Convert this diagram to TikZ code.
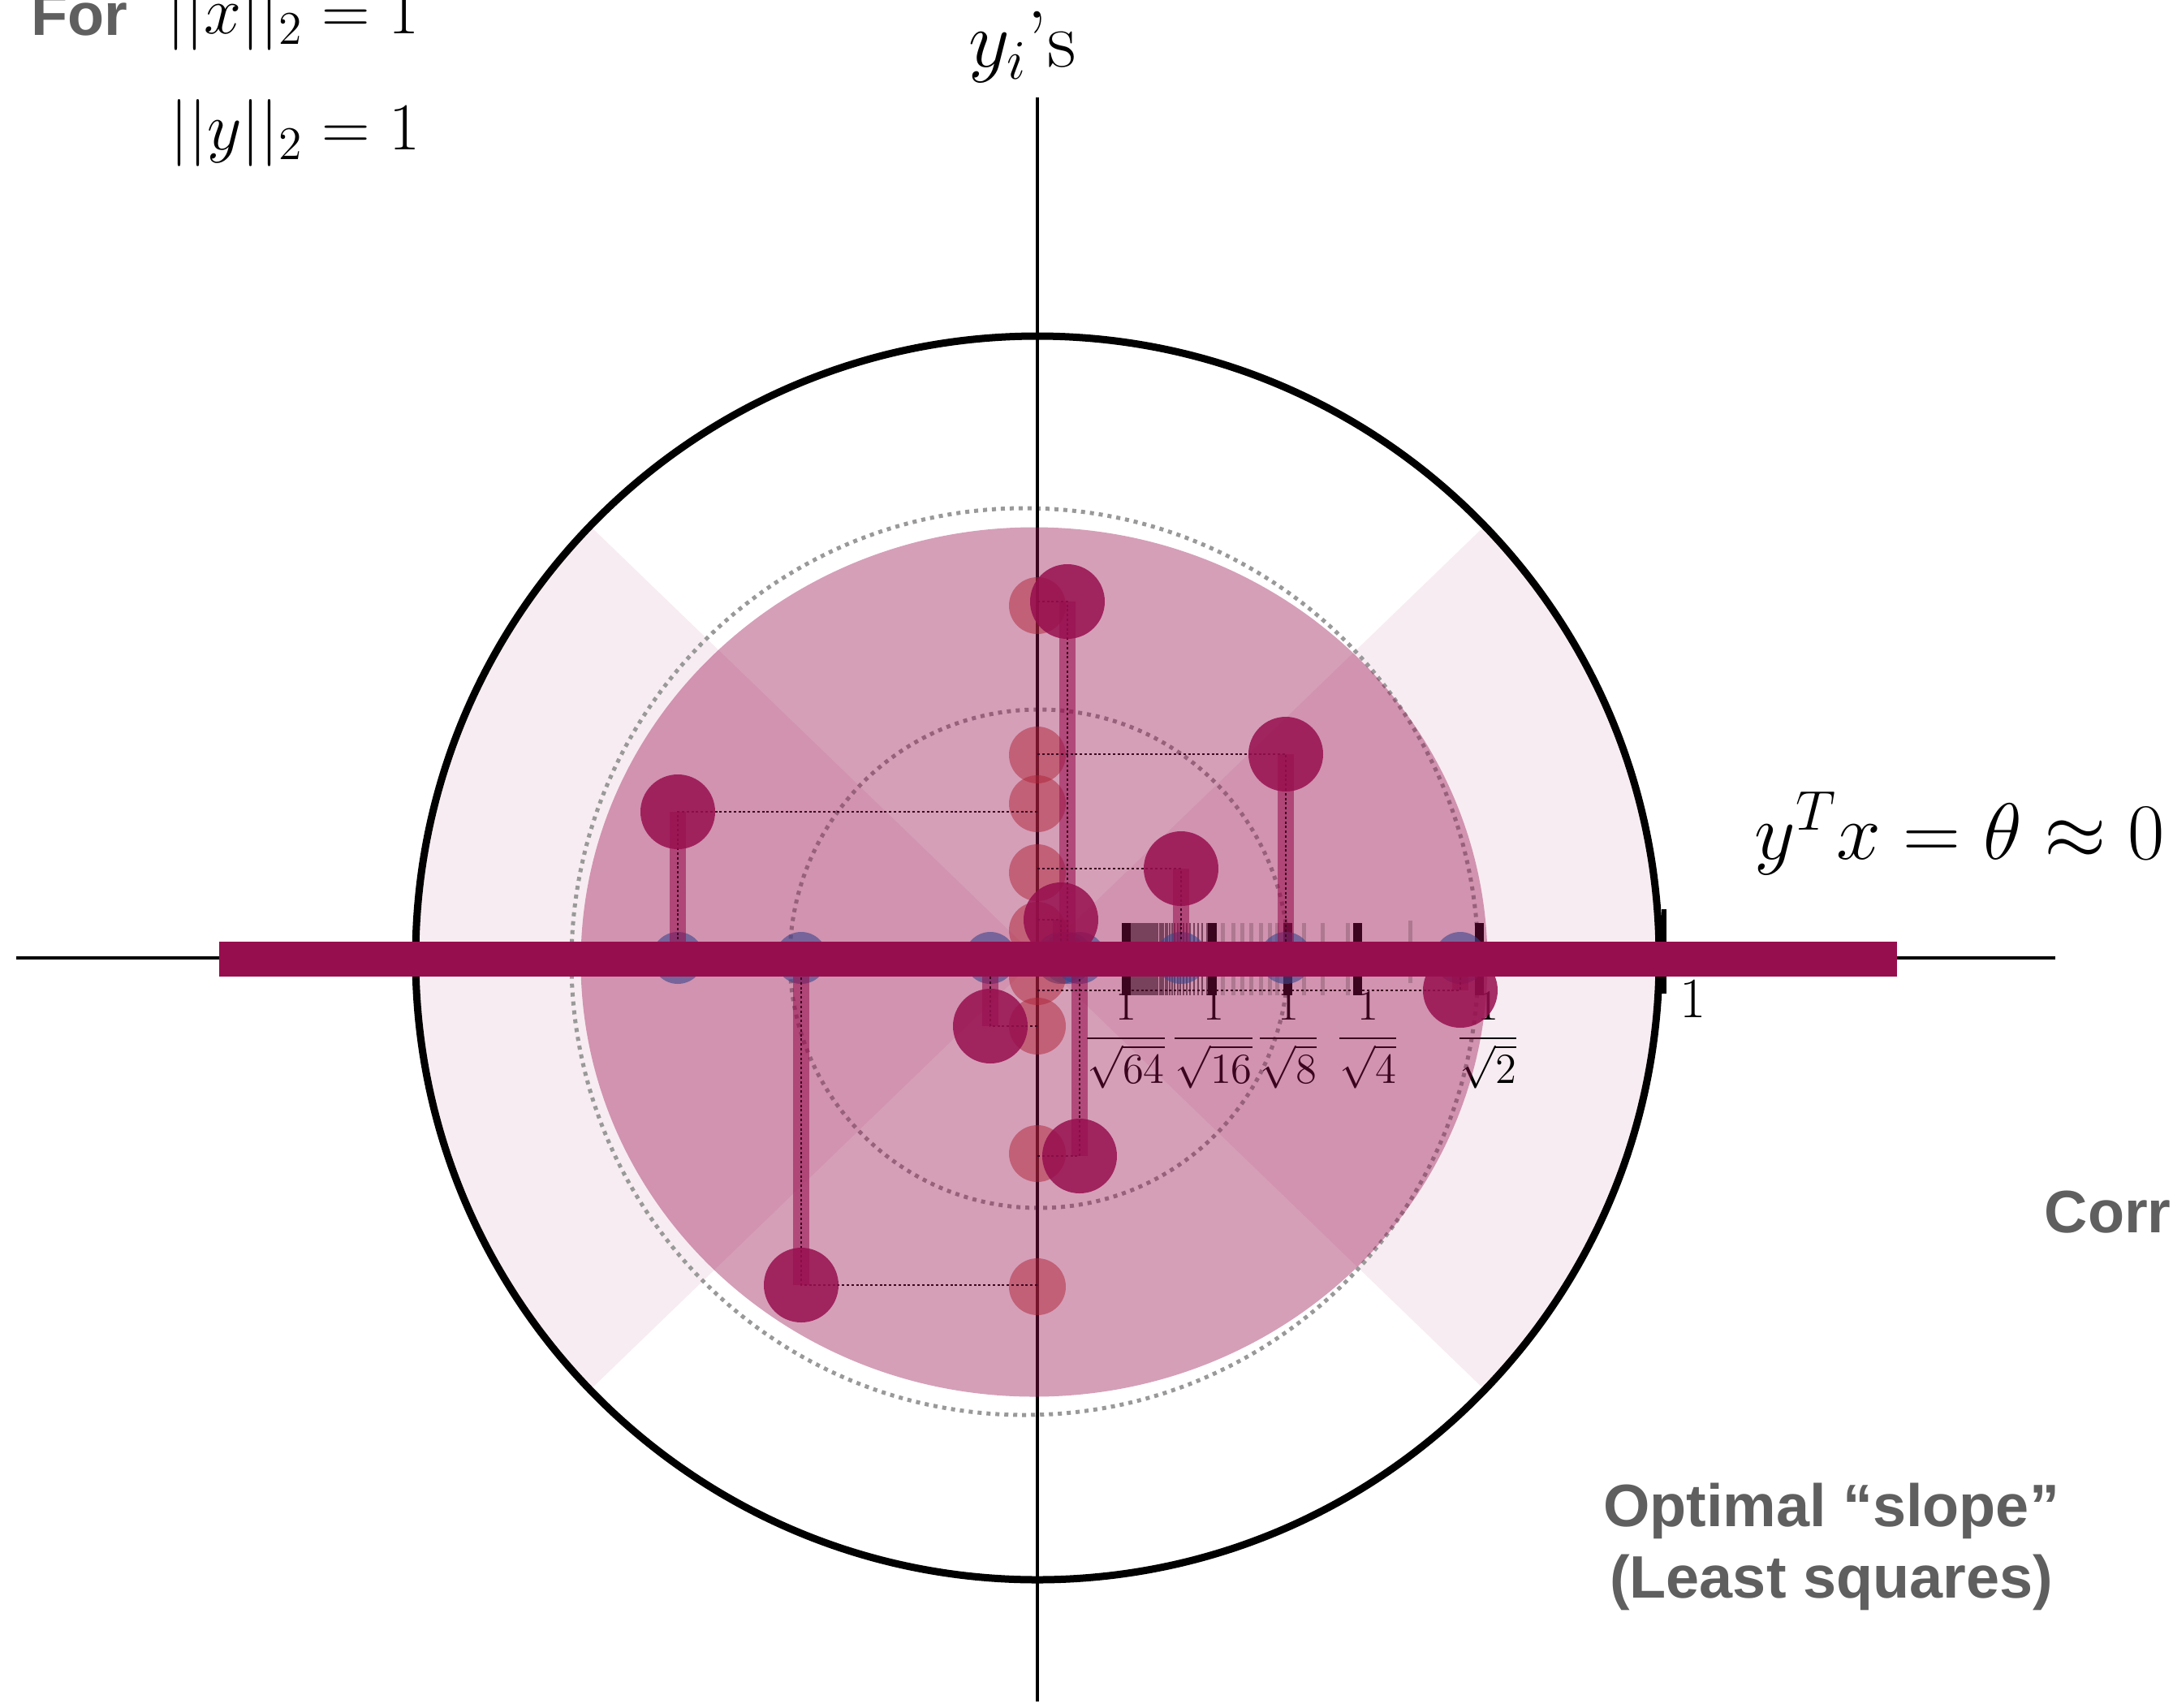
\RequirePackage{fix-cm}
\documentclass[tikz,border=0pt]{standalone}
\usepackage{amsmath,amssymb}
\usepackage{fontspec}
\setsansfont{Liberation Sans}
\usepackage{xcolor}
\usepackage{tikz}
\usetikzlibrary{arrows.meta,positioning,calc}

\definecolor{wine}{RGB}{151,14,78}
\definecolor{projred}{RGB}{175,35,55}
\definecolor{projblue}{RGB}{60,70,140}
\definecolor{capgray}{RGB}{95,95,95}
\definecolor{dotline}{RGB}{60,8,32}

\begin{document}
\begin{tikzpicture}[>=Stealth]
\tikzstyle{pnt}=[circle,fill=wine,fill opacity=0.85,minimum size=9.2mm,inner sep=0pt]
\tikzstyle{rproj}=[circle,fill=projred,fill opacity=0.5,minimum size=7mm,inner sep=0pt]
\tikzstyle{bproj}=[circle,fill=projblue,fill opacity=0.6,minimum size=6.4mm,inner sep=0pt]
\tikzstyle{stembar}=[wine,opacity=0.58,line width=2mm]
\tikzstyle{pline}=[dotline,line width=0.22mm,dash pattern=on 0.3mm off 0.28mm]
\tikzstyle{ring}=[black!40,line width=0.5mm,dash pattern=on 0.5mm off 0.6mm]
\tikzstyle{capfont}=[font=\fontsize{21}{25}\selectfont\sffamily\bfseries,text=capgray,inner sep=0pt]
\tikzstyle{big}=[font=\fontsize{28}{34}\selectfont,inner sep=0pt]
\tikzstyle{norm}=[font=\fontsize{23.5}{28}\selectfont,inner sep=0pt,anchor=base west]
\tikzstyle{frac}=[font=\fontsize{15}{18}\selectfont,inner sep=0pt]
\def\pts{1/0.37/4.39/4.34, 2/3.06/2.51/2.50, 3/-4.43/1.80/1.90, 4/1.77/1.10/1.05,
  5/0.29/0.47/0.34, 6/5.21/-0.40/-0.23, 7/-0.58/-0.84/-0.84, 8/0.52/-2.44/-2.41,
  9/-2.91/-4.03/-4.05}

\useasboundingbox (-12.78,-9.23) rectangle (13.99,11.80);

\fill[wine,opacity=0.08] (0,0) -- (44:7.66) arc[start angle=44,end angle=-44,radius=7.66] -- cycle
  (0,0) -- (136:7.66) arc[start angle=136,end angle=224,radius=7.66] -- cycle;
\draw[ring] (-0.155,-0.045) circle (5.585);
\draw[ring] (0.02,-0.01) circle (3.07);

\draw[line width=0.45mm] (-12.58,0) -- (12.54,0);
\draw[line width=0.45mm] (0,10.60) -- (0,-9.16);

\foreach \t in {17,...,63}
  \draw[black!60,line width=0.2mm] ({1.09+(1/sqrt(\t)-0.125)*8.48},0.43) -- ++(0,-0.89);
\foreach \t in {2.28,2.41,2.52,2.635,2.75,2.86,2.95,3.285,3.51,3.82}
  \draw[black!25,line width=0.5mm] (\t,0.43) -- (\t,-0.46);
\draw[black!25,line width=0.5mm] (4.59,0.46) -- (4.59,-0.31);
\foreach \t in {1.09,2.15,3.08,3.94,5.44}
  \draw[line width=1.1mm] (\t,0.43) -- (\t,-0.46);
\node[frac] (l64) at (1.09,-1.02) {$\dfrac{1}{\sqrt{64}}$};
\node[frac] (l16) at (2.17,-1.02) {$\dfrac{1}{\sqrt{16}}$};
\node[frac] (l8) at (3.09,-1.02) {$\dfrac{1}{\sqrt{8}}$};
\node[frac] (l4) at (4.07,-1.02) {$\dfrac{1}{\sqrt{4}}$};
\node[frac] (l2) at (5.55,-1.02) {$\dfrac{1}{\sqrt{2}}$};
\draw[line width=0.6mm] (7.72,0.60) -- (7.72,-0.44);
\node[font=\fontsize{20}{24}\selectfont] (one) at (8.075,-0.51) {$1$};

\fill[wine,opacity=0.4] (-0.04,-0.05) ellipse [x radius=5.585,y radius=5.355];
\draw[line width=0.9mm] (0,0) circle (7.66);

\foreach \i/\x/\y/\ry in \pts {
  \coordinate (c\i) at (\x,\y);
  \node[rproj] (r\i) at (0,\ry) {};
  \node[bproj] (b\i) at (\x,0) {};
}
\foreach \i/\x/\y/\ry in \pts
  \draw[stembar] (c\i) -- (b\i.center);
\foreach \i/\x/\y/\ry in \pts
  \draw[pline] (r\i.center |- c\i) -| (b\i.center);
\foreach \i/\x/\y/\ry in \pts
  \node[pnt] (p\i) at (c\i) {};

\fill[wine] (-10.08,-0.23) rectangle (10.59,0.20);

\node[capfont,anchor=base west] (for) at (-12.40,11.37) {For};
\node[norm] (nx) at (-10.73,11.38) {$||x||_2 = 1$};
\node[norm] (ny) at (-10.69,9.96) {$||y||_2 = 1$};
\node[big,anchor=base west] (yis) at (-0.85,10.97) {$y_i$'s};
\node[big,anchor=base west] (theta) at (8.83,1.22) {$y^Tx = \theta \approx 0$};
\node[capfont,anchor=base west] (corr) at (12.40,-3.38) {Corr};
\node[capfont,anchor=base] (opt) at (9.78,-7.00) {Optimal “slope”};
\node[capfont,anchor=base] (ls) at (9.78,-7.88) {(Least squares)};
\end{tikzpicture}
\end{document}
